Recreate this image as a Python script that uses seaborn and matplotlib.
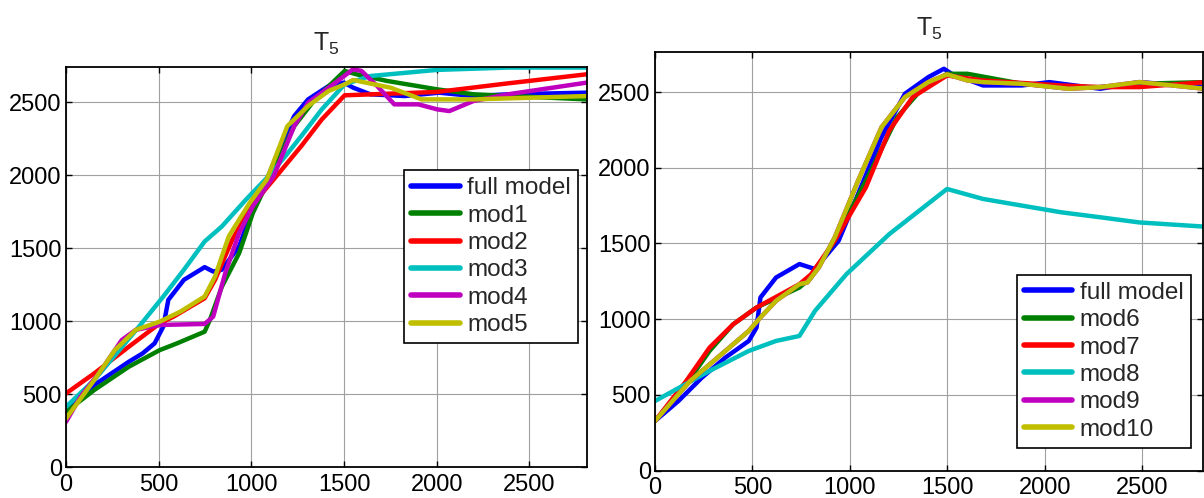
import numpy as np
import pandas as pd
import seaborn as sns
import matplotlib
matplotlib.use('Agg')
import matplotlib.pyplot as plt

# left panel: full model + mod1..mod5
left_names = ['full model', 'mod1', 'mod2', 'mod3', 'mod4', 'mod5']
full_l_x = [0, 152, 245, 339, 413, 478, 525, 552, 636, 748, 794, 840, 934, 999, 1083, 1157, 1231, 1306, 1417, 1500,
            1548, 1641, 1827, 2012, 2198, 2385, 2809]
full_l_y = [389, 561, 641, 721, 778, 847, 962, 1145, 1282, 1369, 1339, 1351, 1511, 1740, 1969, 2198, 2404, 2518, 2610,
            2633, 2599, 2553, 2541, 2564, 2541, 2553, 2564]
mod1_x = [0, 152, 339, 506, 599, 748, 776, 841, 934, 1008, 1120, 1231, 1343, 1503, 1566, 1733, 2001, 2198, 2809]
mod1_y = [378, 527, 687, 801, 847, 927, 1007, 1236, 1465, 1740, 2038, 2335, 2518, 2713, 2690, 2644, 2587, 2553, 2518]
mod2_x = [0, 152, 339, 506, 580, 748, 804, 897, 999, 1120, 1269, 1380, 1503, 2001, 2385, 2809]
mod2_y = [504, 641, 824, 984, 1030, 1156, 1282, 1557, 1786, 1969, 2198, 2381, 2546, 2569, 2628, 2690]
mod3_x = [0, 152, 394, 525, 636, 748, 841, 971, 1083, 1176, 1269, 1380, 1503, 1641, 2001, 2385, 2809]
mod3_y = [412, 595, 962, 1168, 1351, 1545, 1648, 1832, 1980, 2118, 2266, 2450, 2621, 2678, 2720, 2736, 2736]
mod4_x = [0, 78, 190, 301, 376, 506, 748, 794, 859, 934, 1008, 1120, 1231, 1306, 1454, 1548, 1594, 1678, 1771, 1901,
          2001, 2068, 2198, 2385, 2809]
mod4_y = [309, 481, 664, 870, 939, 973, 980, 1030, 1328, 1603, 1786, 1992, 2335, 2495, 2633, 2724, 2713, 2610, 2484,
          2484, 2450, 2438, 2507, 2553, 2633]
mod5_x = [0, 152, 264, 376, 506, 618, 748, 804, 878, 990, 1083, 1194, 1306, 1417, 1503, 1548, 1752, 1918, 2198, 2809]
mod5_y = [332, 595, 801, 939, 996, 1065, 1168, 1305, 1580, 1808, 1969, 2335, 2473, 2576, 2621, 2651, 2598, 2518,
          2518, 2541]

# right panel: full model + mod6..mod10
right_names = ['full model', 'mod6', 'mod7', 'mod8', 'mod9', 'mod10']
full_r_x = [0, 120, 240, 361, 481, 521, 541, 621, 741, 821, 942, 1042, 1162, 1282, 1402, 1482, 1522, 1683, 1883,
            2023, 2284, 2484, 2821]
full_r_y = [327, 459, 613, 746, 856, 944, 1143, 1275, 1364, 1331, 1518, 1827, 2202, 2489, 2599, 2654, 2621, 2544,
            2544, 2566, 2522, 2566, 2533]
mod6_x = [0, 160, 280, 401, 521, 741, 801, 922, 1082, 1242, 1362, 1498, 1603, 1883, 2083, 2284, 2484, 2821]
mod6_y = [327, 569, 790, 966, 1077, 1209, 1275, 1518, 1915, 2334, 2511, 2621, 2621, 2555, 2533, 2533, 2555, 2566]
mod7_x = [0, 160, 280, 401, 521, 741, 801, 922, 1082, 1202, 1322, 1498, 1683, 2083, 2284, 2484, 2821]
mod7_y = [327, 591, 812, 966, 1077, 1231, 1297, 1518, 1871, 2246, 2467, 2610, 2577, 2544, 2533, 2533, 2566]
mod8_x = [0, 280, 481, 621, 741, 821, 982, 1202, 1498, 1683, 1883, 2083, 2284, 2484, 2821]
mod8_y = [459, 658, 790, 856, 889, 1055, 1297, 1562, 1860, 1794, 1750, 1706, 1673, 1639, 1611]
mod9_x = [0, 180, 341, 481, 541, 621, 741, 781, 841, 922, 1042, 1162, 1282, 1402, 1498, 1603, 1683, 1883, 2123,
          2284, 2484, 2821]
mod9_y = [327, 591, 768, 922, 1011, 1121, 1231, 1242, 1342, 1540, 1915, 2268, 2467, 2566, 2617, 2577, 2566, 2555,
          2522, 2533, 2566, 2522]
mod10_x = [0, 180, 341, 481, 541, 621, 741, 781, 841, 922, 1042, 1162, 1282, 1402, 1498, 1603, 1683, 1883, 2123,
           2284, 2484, 2821]
mod10_y = [327, 591, 768, 922, 1011, 1121, 1231, 1242, 1342, 1540, 1915, 2268, 2467, 2566, 2617, 2577, 2566, 2555,
           2522, 2533, 2566, 2522]

colors = ['#0000ff', '#008000', '#ff0000', '#00bfbf', '#bf00bf', '#bfbf00']

sns.set_theme(style='ticks')
plt.rcParams['font.family'] = ['Liberation Sans', 'DejaVu Sans']
plt.rcParams['mathtext.fontset'] = 'custom'
plt.rcParams['mathtext.rm'] = 'Liberation Sans'

fig = plt.figure(figsize=(12.04, 4.98), dpi=100)
ax1 = fig.add_axes([0.0548, 0.0622, 0.4327, 0.8033])
ax2 = fig.add_axes([0.544, 0.0552, 0.455, 0.8404])

left_series = [(full_l_x, full_l_y), (mod1_x, mod1_y), (mod2_x, mod2_y),
               (mod3_x, mod3_y), (mod4_x, mod4_y), (mod5_x, mod5_y)]
right_series = [(full_r_x, full_r_y), (mod6_x, mod6_y), (mod7_x, mod7_y),
                (mod8_x, mod8_y), (mod9_x, mod9_y), (mod10_x, mod10_y)]


def draw_panel(ax, names, series, ytop, legend_kw):
    for name, (xs, ys), c in zip(names, series, colors):
        sns.lineplot(x=xs, y=ys, color=c, lw=3.2, label=name, ax=ax, sort=False)
    ax.set_xlim(0, 2810)
    ax.set_ylim(0, ytop)
    ax.set_xticks([0, 500, 1000, 1500, 2000, 2500])
    ax.set_yticks([0, 500, 1000, 1500, 2000, 2500])
    ax.grid(True, color='#a0a0a0', lw=0.8)
    ax.tick_params(direction='in', top=True, right=True, length=4, width=1,
                   labelsize=17, colors='black')
    ax.tick_params(axis='x', pad=5)
    ax.tick_params(axis='y', pad=3)
    for s in ax.spines.values():
        s.set_color('black')
        s.set_linewidth(1.3)
    ax.set_title(r'$\mathregular{T_5}$', fontsize=18, pad=12)
    leg = ax.legend(fontsize=17.5, frameon=True, fancybox=False, framealpha=1,
                    edgecolor='black', borderaxespad=0, handlelength=2.0,
                    handletextpad=0.3, labelspacing=0.22, borderpad=0.3, **legend_kw)
    leg.get_frame().set_linewidth(1.2)
    for line in leg.get_lines():
        line.set_linewidth(4)


draw_panel(ax1, left_names, left_series, 2740,
           dict(loc='upper right', bbox_to_anchor=(0.983, 0.7425)))
draw_panel(ax2, right_names, right_series, 2765,
           dict(loc='lower right', bbox_to_anchor=(0.978, 0.054)))

fig.savefig('out.png', dpi=100)
